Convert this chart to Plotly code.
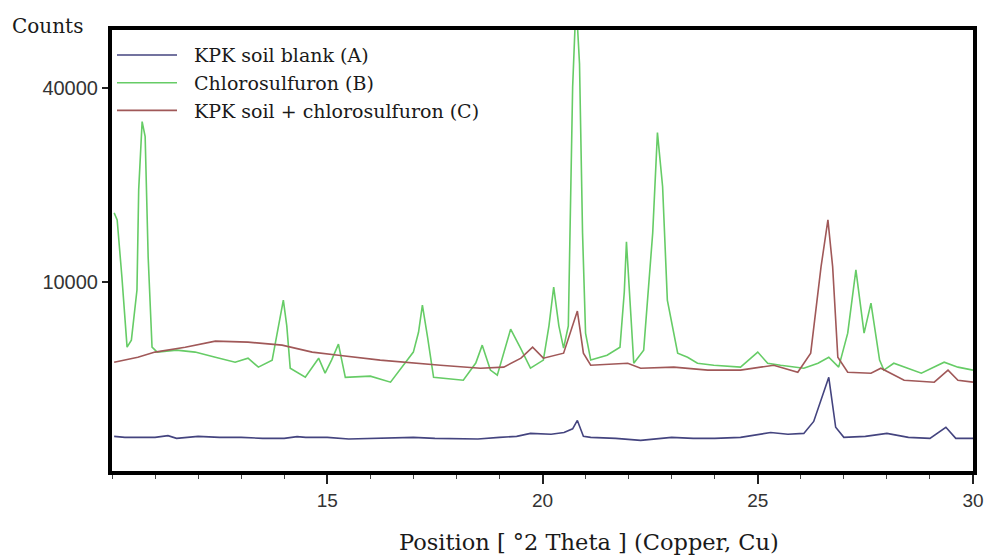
import numpy as np
import plotly.graph_objects as go

# ---- data (2-theta in degrees, intensity in counts) ----
theta_A = [10.05, 10.3, 10.6, 11.0, 11.3, 11.5, 12.0, 12.5, 13.0, 13.5, 14.0, 14.3, 14.5, 15.0, 15.5,
           16.0, 16.5, 17.0, 17.5, 18.0, 18.5, 19.0, 19.4, 19.72, 20.2, 20.5, 20.7, 20.81, 20.95,
           21.12, 21.7, 22.28, 23.0, 23.5, 24.0, 24.6, 25.3, 25.7, 26.07, 26.3, 26.47, 26.65,
           26.81, 27.0, 27.5, 28.0, 28.5, 29.0, 29.37, 29.6, 30.0]
counts_A = [425, 404, 404, 404, 440, 384, 425, 404, 404, 384, 384, 420, 404, 404, 370,
            384, 404, 404, 384, 384, 370, 404, 425, 490, 470, 510, 600, 830, 425,
            404, 384, 344, 404, 384, 384, 404, 510, 470, 490, 800, 1530, 2600,
            640, 404, 425, 490, 404, 384, 640, 384, 384]

theta_B = [10.05, 10.12, 10.23, 10.35, 10.45, 10.58, 10.62, 10.70, 10.77, 10.84, 10.93, 11.05, 11.5,
           11.93, 12.4, 12.86, 13.16, 13.4, 13.72, 13.9, 13.98, 14.06, 14.14, 14.49, 14.8, 14.95, 15.1,
           15.26, 15.42, 16.0, 16.47, 16.86, 17.0, 17.12, 17.21, 17.33, 17.47, 18.16, 18.45, 18.6,
           18.79, 18.95, 19.15, 19.26, 19.49, 19.72, 20.02, 20.15, 20.26, 20.38, 20.49, 20.6, 20.7,
           20.78, 20.86, 20.93, 21.0, 21.12, 21.5, 21.8, 21.9, 21.95, 22.02, 22.12, 22.35, 22.56,
           22.67, 22.79, 22.9, 23.14, 23.37, 23.6, 23.98, 24.6, 25.0, 25.23, 25.53, 26.07, 26.4,
           26.65, 26.88, 27.09, 27.28, 27.47, 27.63, 27.83, 27.93, 28.16, 28.8, 29.33, 29.65, 30.0]
counts_B = [18380, 17410, 10520, 4420, 4910, 9190, 21730, 33300, 30530, 12740, 4420, 4090, 4220,
            4090, 3760, 3450, 3700, 3160, 3580, 6500, 8230, 6000, 3100, 2600, 3700, 2820, 3580,
            4630, 2600, 2660, 2350, 3580, 4090, 5500, 7770, 5130, 2600, 2450, 3400, 4560,
            2990, 2710, 4500, 5740, 4350, 3100, 3580, 6000, 9490, 6000, 4350, 6000, 40000,
            60000, 45000, 15690, 5430, 3580, 3890, 4420, 9000, 14550, 9000, 3390, 4220, 15690,
            31260, 22190, 8230, 4020, 3760, 3390, 3270, 3160, 4090, 3390, 3270, 3100, 3390,
            3760, 3160, 5430, 11280, 5430, 7950, 3580, 2990, 3390, 2820, 3450, 3160, 2990]

theta_C = [10.05, 10.6, 11.0, 11.7, 12.4, 13.16, 13.95, 14.65, 15.26, 16.23, 17.63, 18.56, 19.1,
           19.5, 19.77, 20.02, 20.49, 20.81, 20.95, 21.12, 21.98, 22.28, 23.05, 23.84, 24.6, 25.37,
           25.93, 26.23, 26.47, 26.63, 26.74, 26.86, 27.09, 27.63, 27.86, 28.4, 29.1, 29.42, 29.65, 30.0]
counts_C = [3450, 3760, 4090, 4420, 4840, 4770, 4560, 4090, 3890, 3580, 3270, 3100, 3160,
            3700, 4420, 3700, 4020, 7230, 4020, 3270, 3390, 3100, 3160, 2990, 2990, 3270,
            2870, 4020, 11610, 17410, 11610, 3760, 2870, 2820, 3100, 2450, 2350, 2990, 2450, 2350]

names = ["KPK soil blank (A)", "Chlorosulfuron (B)", "KPK soil + chlorosulfuron (C)"]
colors = ["#44447f", "#66cc66", "#a05858"]

y_ticks = [10000, 40000]
x_ticks = [15, 20, 25, 30]

fig = go.Figure()
for th, ct, nm, col in zip([theta_A, theta_B, theta_C], [counts_A, counts_B, counts_C], names, colors):
    fig.add_trace(go.Scatter(x=th, y=np.sqrt(np.array(ct, dtype=float)), mode="lines",
                             name="\u00a0\u00a0" + nm, line=dict(color=col, width=1.6)))

fig.update_layout(
    width=986, height=557,
    margin=dict(l=112, r=13, t=30, b=86, autoexpand=False),
    paper_bgcolor="white", plot_bgcolor="white",
    showlegend=True,
    legend=dict(x=0.0, y=0.986, xanchor="left", yanchor="top", bgcolor="rgba(0,0,0,0)",
                font=dict(family="DejaVu Serif", size=19, color="#1a1a1a"),
                itemwidth=60, tracegroupgap=0),
    font=dict(family="Liberation Sans", color="#333"),
)
fig.update_xaxes(
    range=[10, 30], tickvals=x_ticks, ticks="outside", ticklen=9, tickwidth=1.5, tickcolor="#222",
    showline=True, linewidth=4, linecolor="black", mirror=True, showgrid=False, zeroline=False,
    automargin=False,
    tickfont=dict(family="Liberation Sans", size=19, color="#333"),
    minor=dict(dtick=1, tick0=10, ticks="outside", ticklen=4, tickwidth=1.2, tickcolor="#444"),
)
fig.update_yaxes(
    range=[2.8, 229.6], tickvals=list(np.sqrt(y_ticks)), ticktext=[str(v) for v in y_ticks],
    ticks="outside", ticklen=6, tickwidth=1.5, tickcolor="#222",
    showline=True, linewidth=4, linecolor="black", mirror=True, showgrid=False, zeroline=False,
    automargin=False,
    tickfont=dict(family="Liberation Sans", size=20, color="#333"),
)
fig.add_annotation(text="Counts", xref="paper", yref="paper", x=-0.1185, y=1.008,
                   xanchor="left", yanchor="middle", showarrow=False,
                   font=dict(family="DejaVu Serif", size=20, color="#1a1a1a"))
fig.add_annotation(text="Position [ °2 Theta ] (Copper, Cu)", xref="paper", yref="paper",
                   x=0.5535, y=-0.160, xanchor="center", yanchor="middle", showarrow=False,
                   font=dict(family="DejaVu Serif", size=22.5, color="#1a1a1a"))

fig.write_html("out.html")
